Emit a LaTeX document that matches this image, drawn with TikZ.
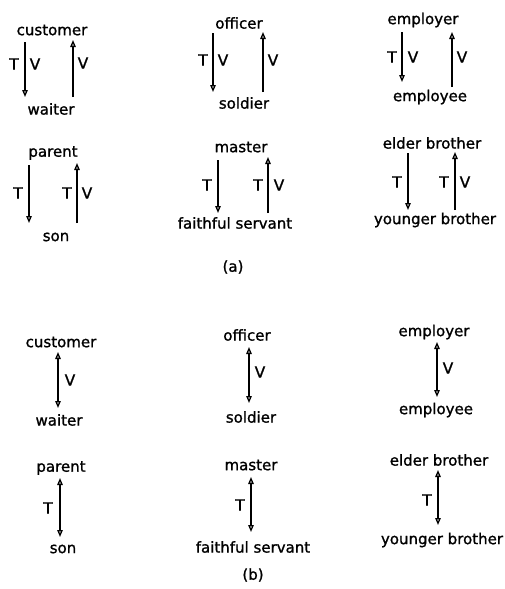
\documentclass[tikz,border=0pt]{standalone}
\usepackage{fontspec}
\setmainfont{DejaVu Sans}
\newfontfamily\wordfont{DejaVu Sans}[FakeBold=1.2]
\usetikzlibrary{arrows.meta}
\begin{document}
\begin{tikzpicture}[x=1pt,y=-1pt,
  word/.style={inner sep=0pt, font=\wordfont\fontsize{15}{18}\selectfont},
  lbl/.style={inner sep=0pt, font=\wordfont\fontsize{15.5}{18}\selectfont},
  arr/.style={line width=1.3pt, -{Triangle[open,length=7pt,width=5.5pt]}},
  darr/.style={line width=1.3pt, {Triangle[open,length=7pt,width=5.5pt]}-{Triangle[open,length=7pt,width=5.5pt]}}]
\useasboundingbox (0,0) rectangle (504,589);

% ---------- panel (a) ----------
% customer / waiter
\node[word] (aCust) at (52,30) {customer};
\node[word] (aWait) at (51,109) {waiter};
\coordinate (aC1s) at (25,42); \coordinate (aC1e) at (25,97);
\coordinate (aC2s) at (73,97); \coordinate (aC2e) at (73,40);
\draw[arr] (aC1s) -- (aC1e);
\draw[arr] (aC2s) -- (aC2e);
\node[lbl] (aCT) at (14,64) {T};
\node[lbl] (aCV) at (35,64) {V};
\node[lbl] (aCV2) at (83,63) {V};

% officer / soldier
\node[word] (aOff) at (239,23) {officer};
\node[word] (aSol) at (244,103) {soldier};
\coordinate (aO1s) at (213,33); \coordinate (aO1e) at (213,92);
\coordinate (aO2s) at (263,92); \coordinate (aO2e) at (263,32);
\draw[arr] (aO1s) -- (aO1e);
\draw[arr] (aO2s) -- (aO2e);
\node[lbl] (aOT) at (203,60) {T};
\node[lbl] (aOV) at (223,60) {V};
\node[lbl] (aOV2) at (273,60) {V};

% employer / employee
\node[word] (aEmp) at (423,20) {employer};
\node[word] (aEmpe) at (430,97) {employee};
\coordinate (aE1s) at (402,32); \coordinate (aE1e) at (402,82);
\coordinate (aE2s) at (452,87); \coordinate (aE2e) at (452,32);
\draw[arr] (aE1s) -- (aE1e);
\draw[arr] (aE2s) -- (aE2e);
\node[lbl] (aET) at (392,57) {T};
\node[lbl] (aEV) at (413,57) {V};
\node[lbl] (aEV2) at (462,57) {V};

% parent / son
\node[word] (aPar) at (53,153) {parent};
\node[word] (aSon) at (56,237) {son};
\coordinate (aP1s) at (29,165); \coordinate (aP1e) at (29,223);
\coordinate (aP2s) at (77,223); \coordinate (aP2e) at (77,163);
\draw[arr] (aP1s) -- (aP1e);
\draw[arr] (aP2s) -- (aP2e);
\node[lbl] (aPT) at (18,193) {T};
\node[lbl] (aPT2) at (67,193) {T};
\node[lbl] (aPV2) at (87,193) {V};

% master / faithful servant
\node[word] (aMas) at (241,147) {master};
\node[word] (aSer) at (235,223) {faithful servant};
\coordinate (aM1s) at (218,160); \coordinate (aM1e) at (218,213);
\coordinate (aM2s) at (268,213); \coordinate (aM2e) at (268,157);
\draw[arr] (aM1s) -- (aM1e);
\draw[arr] (aM2s) -- (aM2e);
\node[lbl] (aMT) at (207,185) {T};
\node[lbl] (aMT2) at (258,185) {T};
\node[lbl] (aMV2) at (279,185) {V};

% elder / younger brother
\node[word] (aEld) at (432,143) {elder brother};
\node[word] (aYou) at (435,220) {younger brother};
\coordinate (aB1s) at (408,153); \coordinate (aB1e) at (408,210);
\coordinate (aB2s) at (455,210); \coordinate (aB2e) at (455,152);
\draw[arr] (aB1s) -- (aB1e);
\draw[arr] (aB2s) -- (aB2e);
\node[lbl] (aBT) at (397,182) {T};
\node[lbl] (aBT2) at (444,182) {T};
\node[lbl] (aBV2) at (465,182) {V};

\node[word] (capA) at (233,267) {(a)};

% ---------- panel (b) ----------
\node[word] (bCust) at (61,342) {customer};
\node[word] (bWait) at (59,420) {waiter};
\coordinate (bCs) at (58,352); \coordinate (bCe) at (58,408);
\draw[darr] (bCs) -- (bCe);
\node[lbl] (bCV) at (70,380) {V};

\node[word] (bOff) at (247,335) {officer};
\node[word] (bSol) at (251,417) {soldier};
\coordinate (bOs) at (249,347); \coordinate (bOe) at (249,403);
\draw[darr] (bOs) -- (bOe);
\node[lbl] (bOV) at (260,372) {V};

\node[word] (bEmp) at (434,332) {employer};
\node[word] (bEmpe) at (436,410) {employee};
\coordinate (bEs) at (437,342); \coordinate (bEe) at (437,397);
\draw[darr] (bEs) -- (bEe);
\node[lbl] (bEV) at (448,368) {V};

\node[word] (bPar) at (61,468) {parent};
\node[word] (bSon) at (63,549) {son};
\coordinate (bPs) at (60,478); \coordinate (bPe) at (60,537);
\draw[darr] (bPs) -- (bPe);
\node[lbl] (bPT) at (48,508) {T};

\node[word] (bMas) at (251,465) {master};
\node[word] (bSer) at (253,547) {faithful servant};
\coordinate (bMs) at (251,477); \coordinate (bMe) at (251,532);
\draw[darr] (bMs) -- (bMe);
\node[lbl] (bMT) at (240,505) {T};

\node[word] (bEld) at (439,460) {elder brother};
\node[word] (bYou) at (442,540) {younger brother};
\coordinate (bBs) at (438,470); \coordinate (bBe) at (438,525);
\draw[darr] (bBs) -- (bBe);
\node[lbl] (bBT) at (427,500) {T};

\node[word] (capB) at (253,575) {(b)};
\end{tikzpicture}
\end{document}
